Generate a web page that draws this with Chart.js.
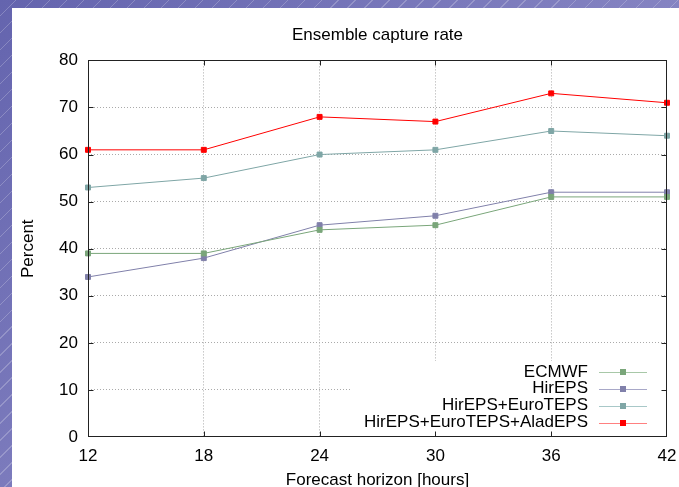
<!DOCTYPE html>
<html>
<head>
<meta charset="utf-8">
<script src="https://cdn.jsdelivr.net/npm/chart.js@4.4.1/dist/chart.umd.min.js"></script>
<style>
  html, body { margin: 0; padding: 0; }
  body {
    width: 679px; height: 487px; overflow: hidden; position: relative;
    background:
      repeating-linear-gradient(135deg, rgba(255,255,255,0) 0 11px, rgba(255,255,255,0.22) 11px 12px),
      linear-gradient(135deg, #6464ae, #9c9ad0);
  }
  #panel { position: absolute; left: 12px; top: 8px; width: 667px; height: 479px; background: #fff; }
</style>
</head>
<body>
<div id="panel"><canvas id="chart"></canvas></div>
<script>
const hours = ['12', '18', '24', '30', '36', '42'];
const ecmwf = [39, 39, 44, 45, 51, 51];
const hirEps = [34, 38, 45, 47, 52, 52];
const hirEuro = [53, 55, 60, 61, 65, 64];
const hirEuroAlad = [61, 61, 68, 67, 73, 71];

const seriesNames = ['ECMWF', 'HirEPS', 'HirEPS+EuroTEPS', 'HirEPS+EuroTEPS+AladEPS'];
const seriesColors = ['#7aa67a', '#8080aa', '#7fa6a6', '#ff0000'];
const keyLineColors = ['#a8c8a8', '#a8a8c8', '#a8c8c8', '#ff8080'];

const FONT = "'Liberation Sans', Arial, sans-serif";

function makeSet(i, values) {
  return {
    label: seriesNames[i],
    data: values,
    borderColor: seriesColors[i],
    backgroundColor: seriesColors[i],
    borderWidth: 1,
    pointStyle: 'rect',
    pointRadius: 3.5,
    pointBorderWidth: 1,
    tension: 0
  };
}

// white box behind the key, drawn over the grid
const keyBox = {
  id: 'keyBox',
  beforeDatasetsDraw(chart) {
    const { ctx, chartArea: a } = chart;
    ctx.save();
    ctx.fillStyle = '#fff';
    ctx.fillRect(340, 353, a.right - 340, a.bottom - 353);
    ctx.restore();
  }
};

// gnuplot style frame, mirrored inward ticks and key
const frame = {
  id: 'frame',
  afterDraw(chart) {
    const { ctx, chartArea: a, scales: { x, y } } = chart;
    const L = Math.round(a.left) + 0.5, R = Math.round(a.right) - 0.5;
    const T = Math.round(a.top) + 0.5, B = Math.round(a.bottom) - 0.5;
    ctx.save();
    ctx.strokeStyle = '#222';
    ctx.lineWidth = 1;
    ctx.strokeRect(L, T, R - L, B - T);
    ctx.beginPath();
    for (let v = 10; v < 80; v += 10) {
      const py = Math.round(y.getPixelForValue(v)) + 0.5;
      ctx.moveTo(L, py); ctx.lineTo(L + 5, py);
      ctx.moveTo(R, py); ctx.lineTo(R - 5, py);
    }
    for (let i = 1; i < hours.length - 1; i++) {
      const px = Math.round(x.getPixelForValue(i)) + 0.5;
      ctx.moveTo(px, B); ctx.lineTo(px, B - 5);
      ctx.moveTo(px, T); ctx.lineTo(px, T + 5);
    }
    ctx.stroke();

    // key
    ctx.font = '17px ' + FONT;
    ctx.textAlign = 'right';
    ctx.textBaseline = 'middle';
    const rows = [364, 380.5, 397.5, 414.5];
    seriesNames.forEach((name, i) => {
      const ry = Math.round(rows[i]);
      ctx.fillStyle = '#000';
      ctx.fillText(name, 576, rows[i]);
      ctx.fillStyle = keyLineColors[i];
      ctx.fillRect(587, ry, 48, 1);
      ctx.fillStyle = seriesColors[i];
      ctx.fillRect(608, ry - 3, 6, 6);
    });
    ctx.restore();
  }
};

new Chart(document.getElementById('chart'), {
  type: 'line',
  data: {
    labels: hours,
    datasets: [makeSet(0, ecmwf), makeSet(1, hirEps), makeSet(2, hirEuro), makeSet(3, hirEuroAlad)]
  },
  options: {
    responsive: true,
    maintainAspectRatio: false,
    animation: false,
    layout: { padding: { left: 0, right: 12, top: 0, bottom: 0 } },
    plugins: {
      legend: { display: false },
      tooltip: { enabled: false },
      title: {
        display: true,
        fullSize: false,
        text: 'Ensemble capture rate',
        color: '#000',
        font: { family: FONT, size: 17, weight: 'normal' },
        padding: { top: 17, bottom: 15 }
      }
    },
    scales: {
      x: {
        offset: false,
        grid: {
          drawTicks: false,
          color: c => (c.index === 0 || c.index === hours.length - 1) ? 'rgba(0,0,0,0)' : '#aaa'
        },
        border: { display: false, dash: [1, 2] },
        ticks: { color: '#000', padding: 9, font: { family: FONT, size: 17 }, maxRotation: 0 },
        title: {
          display: true,
          text: 'Forecast horizon [hours]',
          color: '#000',
          font: { family: FONT, size: 17 },
          padding: { top: 0, bottom: -4 }
        },
        afterFit(scale) {
          scale.height = 50;
          scale.paddingLeft = 0;
          scale.paddingRight = 0;
        }
      },
      y: {
        min: 0,
        max: 80,
        grid: {
          drawTicks: false,
          color: c => (c.tick.value === 0 || c.tick.value === 80) ? 'rgba(0,0,0,0)' : '#aaa'
        },
        border: { display: false, dash: [1, 2] },
        ticks: { stepSize: 10, color: '#000', padding: 10, font: { family: FONT, size: 17 } },
        title: {
          display: true,
          text: 'Percent',
          color: '#000',
          font: { family: FONT, size: 17 },
          padding: { top: 6, bottom: 0 }
        },
        afterFit(scale) { scale.width = 76; }
      }
    }
  },
  plugins: [keyBox, frame]
});
</script>
</body>
</html>
